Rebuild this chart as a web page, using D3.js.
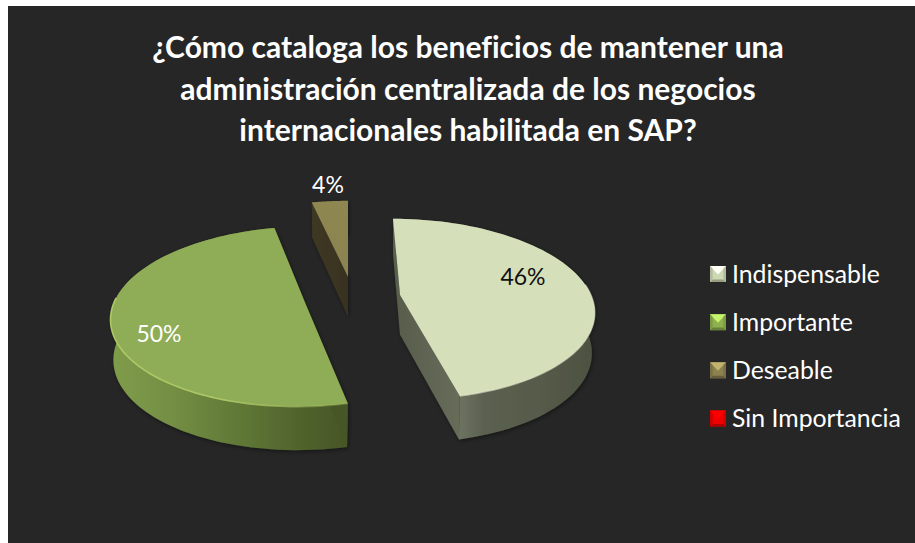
<!DOCTYPE html>
<html>
<head>
<meta charset="utf-8">
<script src="https://cdn.jsdelivr.net/npm/d3@7/dist/d3.min.js"></script>
<style>
html,body{margin:0;padding:0;background:#fff;overflow:hidden}
svg{display:block}
text{font-family:Lato,Carlito,"Open Sans",sans-serif;font-variant-ligatures:none}
</style>
</head>
<body>
<svg id="chart" width="915" height="543"></svg>
<script>
// ---- data ----
const titleLines = [
  "¿Cómo cataloga los beneficios de mantener una",
  "administración centralizada de los negocios",
  "internacionales habilitada en SAP?"
];
const categories = ["Indispensable", "Importante", "Deseable", "Sin Importancia"];
const values = [46.4, 50.1, 3.5, 0];

// ---- styles and layout ----
const W = 915, H = 543;
const topColors = ["#d5e0ba", "#8fac57", "#8b8350", "#e60000"];
const legendColors = ["#cdd8b4", "#8fb04e", "#8c8250", "#ee0000"];
const labelColors = ["#111111", "#ffffff", "#ffffff", "#ffffff"];
const apex = [[400, 295], [305, 302.5], [348, 277], [348, 295]];      // exploded slice tips on screen
const labelOffset = [[123, -18], [-146, 31], [-20, -92], [0, 0]];
const vanishX = 348, persp = 0.155, Rx = 191, Ry = 88, baseShrink = 0.985;

const svg = d3.select("#chart");
svg.append("rect").attr("x", 8).attr("y", 6).attr("width", W - 8).attr("height", H - 6).attr("fill", "#262626");

const defs = svg.append("defs");
const shadow = defs.append("filter").attr("id", "soft").attr("x", "-10%").attr("y", "-10%").attr("width", "120%").attr("height", "125%");
shadow.append("feDropShadow").attr("dx", 1).attr("dy", 1.5).attr("stdDeviation", 2).attr("flood-color", "#000").attr("flood-opacity", 0.45);

function grad(id, x1, x2, stops) {
  const g = defs.append("linearGradient").attr("id", id).attr("gradientUnits", "userSpaceOnUse")
    .attr("x1", x1).attr("x2", x2).attr("y1", 0).attr("y2", 0);
  stops.forEach(s => g.append("stop").attr("offset", s[0]).attr("stop-color", s[1]).attr("stop-opacity", s[2] === undefined ? 1 : s[2]));
  return `url(#${id})`;
}

// ---- projection of the tilted disc ----
function projectTop(i, a, r) {
  const u = Math.sin(a) * r, v = Math.cos(a) * r, s = 1 / (1 + persp * v);
  return [vanishX + (apex[i][0] - vanishX + Rx * u) * s, apex[i][1] - Ry * v * s];
}
function projectBase(i, a, r) {
  const u = Math.sin(a) * r, v = Math.cos(a) * r, s = 1 / (1 + persp * v);
  return [vanishX + (apex[i][0] - vanishX + Rx * baseShrink * u) * s, apex[i][1] - Ry * v * s + 39.5 - 4 * v];
}
const line = d3.line();
function samples(a0, a1) { return d3.range(0, 81).map(k => a0 + (a1 - a0) * k / 80); }

const pie = d3.pie().value(d => d).sort(null).startAngle(0).endAngle(2 * Math.PI);
const arcs = pie(values);

const wallFill = [
  grad("w0", 457, 592, [[0, "#6f7562"], [0.2, "#5b6150"], [0.6, "#565b49"], [1, "#4d5241"]]),
  grad("w1", 112, 348, [[0, "#7f9c4a"], [0.25, "#748f44"], [0.55, "#5f7736"], [0.8, "#50632c"], [1, "#465626"]]),
  "#3a3421"
];
const cutFill = [
  grad("c0", 398, 457, [[0, "#585e4c"], [1, "#666c59"]]),
  "#465626",
  grad("c2", 312, 348, [[0, "#3e3823"], [1, "#38321f"]])
];
const faceFill = [
  "#d5e0ba",
  "#8fac57",
  (function () {
    const g = defs.append("linearGradient").attr("id", "t2").attr("x1", 0).attr("x2", 0).attr("y1", 0).attr("y2", 1);
    g.append("stop").attr("offset", 0).attr("stop-color", "#8f8751");
    g.append("stop").attr("offset", 1).attr("stop-color", topColors[2]);
    return "url(#t2)";
  })()
];

// painter's order: back to front
const order = [2, 1, 0];
order.forEach(i => {
  const d = arcs[i];
  const g = svg.append("g");
  const walls = g.append("g").attr("filter", "url(#soft)");
  const as = samples(d.startAngle, d.endAngle);
  // outer wall
  const wallPts = as.map(a => projectTop(i, a, 1)).concat(as.slice().reverse().map(a => projectBase(i, a, 1)));
  walls.append("path").attr("d", line(wallPts) + "Z").attr("fill", wallFill[i]);
  // flat cut walls
  [d.startAngle, d.endAngle].forEach(a => {
    const pts = [projectTop(i, a, 1), projectTop(i, a, 0), projectBase(i, a, 0), projectBase(i, a, 1)];
    walls.append("path").attr("d", line(pts) + "Z").attr("fill", cutFill[i]);
  });
  // top face
  const facePts = as.map(a => projectTop(i, a, 1)).concat([projectTop(i, 0, 0)]);
  g.append("path").attr("d", line(facePts) + "Z").attr("fill", faceFill[i]);
});

// rim highlights along the front edge
const rimG = grad("r1", 109, 348, [[0, "#b4d06a", 0.9], [0.5, "#b0cc68", 0.9], [1, "#a6c360", 0.25]]);
svg.append("path")
  .attr("d", line(samples(arcs[1].startAngle, arcs[1].startAngle + 1.85).map(a => projectTop(1, a, 1))))
  .attr("fill", "none").attr("stroke", rimG).attr("stroke-width", 1.6);
svg.append("path")
  .attr("d", line(samples(arcs[0].startAngle + 1.45, arcs[0].endAngle).map(a => projectTop(0, a, 1))))
  .attr("fill", "none").attr("stroke", "#e9efd6").attr("stroke-opacity", 0.55).attr("stroke-width", 1.4);

// data labels
const pct = d3.format(".0%");
values.forEach((v, i) => {
  if (!v) return;
  svg.append("text")
    .attr("x", apex[i][0] + labelOffset[i][0]).attr("y", apex[i][1] + labelOffset[i][1])
    .attr("dy", "0.36em").attr("text-anchor", "middle")
    .attr("font-size", 23).attr("fill", labelColors[i])
    .text(pct(v / d3.sum(values)));
});

// title
const titleY = d3.scalePoint().domain(d3.range(titleLines.length)).range([58, 141]);
svg.append("g").selectAll("text").data(titleLines).join("text")
  .attr("x", 468).attr("y", (d, i) => titleY(i))
  .attr("text-anchor", "middle").attr("font-size", 30).attr("font-weight", 700).attr("fill", "#ffffff")
  .text(d => d);

// legend
const legendY = d3.scalePoint().domain(categories).range([274, 418.5]);
const legendG = svg.append("g").selectAll("g").data(categories).join("g")
  .attr("transform", d => `translate(710,${legendY(d)})`);
const m = 8, b = 2.6;
legendG.each(function (d, i) {
  const c = d3.color(legendColors[i]);
  const g = d3.select(this);
  const poly = (pts, col) => g.append("path").attr("d", line(pts) + "Z").attr("fill", col);
  poly([[0, -m], [2 * m, -m], [2 * m, m], [0, m]], c.formatHex());
  poly([[0, -m], [2 * m, -m], [m, 0.5]], c.brighter(0.9).formatHex());
  poly([[b, m - b], [2 * m - b, m - b], [2 * m, m], [0, m]], c.darker(0.9).formatHex());
  poly([[0, -m], [b, -m + b], [b, m - b], [0, m]], c.darker(0.4).formatHex());
  poly([[2 * m, -m], [2 * m - b, -m + b], [2 * m - b, m - b], [2 * m, m]], c.darker(0.4).formatHex());
});
legendG.append("text").attr("x", 22).attr("dy", "0.36em")
  .attr("font-size", 24.8).attr("fill", "#ffffff").text(d => d);
</script>
</body>
</html>
